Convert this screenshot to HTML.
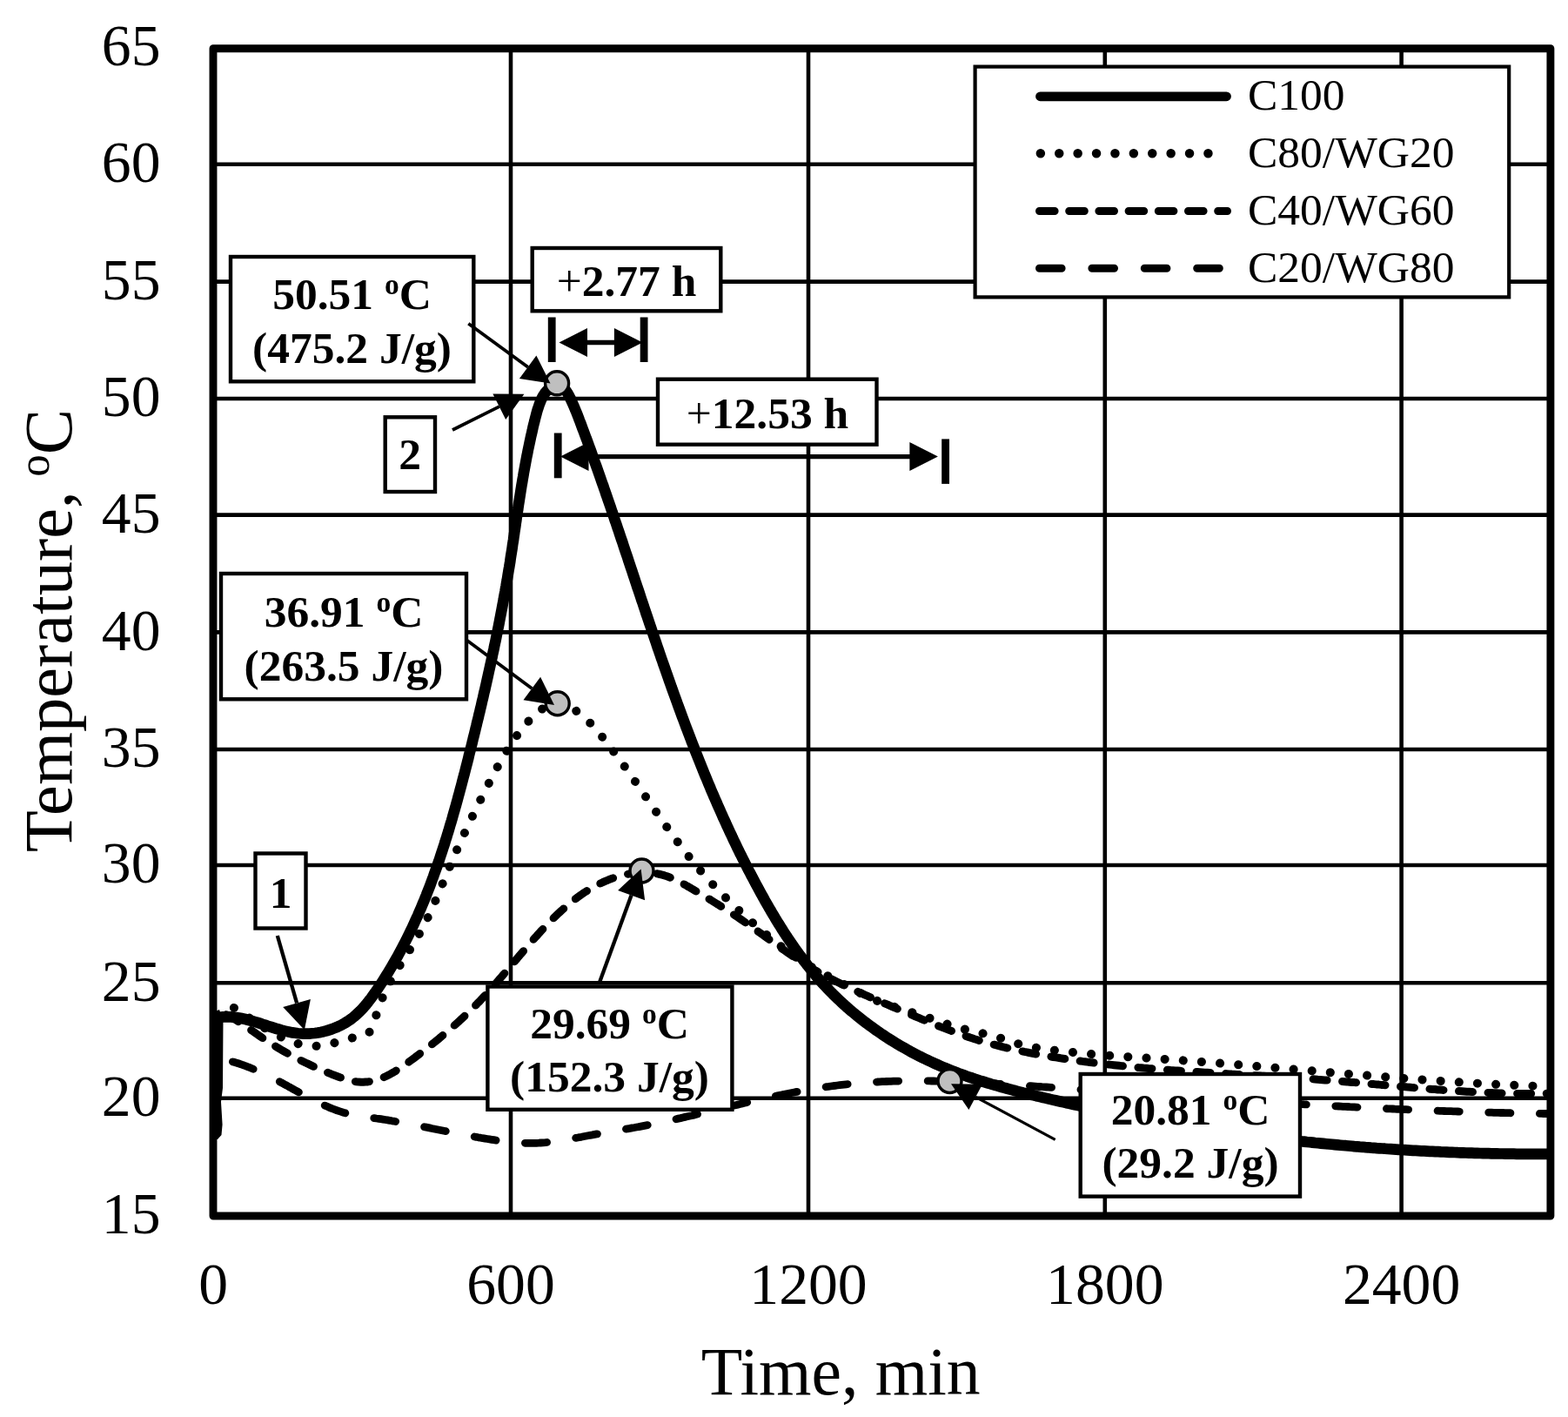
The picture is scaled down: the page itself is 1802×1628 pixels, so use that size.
<!DOCTYPE html>
<html lang="en">
<head>
<meta charset="utf-8">
<title>Temperature vs Time</title>
<style>html,body{margin:0;padding:0;background:#fff;overflow:hidden}svg{display:block}</style>
</head>
<body>
<svg width="1802" height="1628" viewBox="0 0 1802 1628" font-family='"Liberation Serif", "DejaVu Serif", serif' fill="#000">
<rect x="0" y="0" width="1802" height="1628" fill="#fff"/>
<g>
<path d="M587.0 55.7V1397.0M929.0 55.7V1397.0M1269.8 55.7V1397.0M1610.6 55.7V1397.0M245.0 188.8H1781.9M245.0 323.6H1781.9M245.0 458.0H1781.9M245.0 591.6H1781.9M245.0 726.4H1781.9M245.0 861.0H1781.9M245.0 994.0H1781.9M245.0 1129.3H1781.9M245.0 1261.8H1781.9" stroke="#000" stroke-width="4.6" fill="none"/>
<rect x="245.0" y="55.7" width="1536.9" height="1341.3" fill="none" stroke="#000" stroke-width="8.9" stroke-linejoin="round"/>
<g id="series"><path d="M252.8 1216.4L255.4 1216.9L258.0 1217.5L260.5 1218.1L263.1 1218.7L265.6 1219.4L268.1 1220.1L270.5 1220.8L273.0 1221.5L275.5 1222.3L277.9 1223.2L280.3 1224.0L282.7 1224.9L285.1 1225.8L287.5 1226.7L289.9 1227.7L292.3 1228.7L294.6 1229.7L297.0 1230.7L299.3 1231.8L301.7 1232.8L304.0 1233.9L306.3 1235.0L308.6 1236.2L310.9 1237.3L313.2 1238.5L315.5 1239.7L317.8 1240.9L320.1 1242.1L322.4 1243.3L324.7 1244.5L327.0 1245.8L329.3 1247.0L331.5 1248.3L333.8 1249.5L336.1 1250.8L338.4 1252.1L340.7 1253.3L343.0 1254.6L345.3 1255.8L347.5 1257.1L349.8 1258.3L352.1 1259.6L354.4 1260.8L356.7 1262.0L359.0 1263.2L361.4 1264.4L363.7 1265.6L366.0 1266.7L368.3 1267.8L370.7 1268.9L373.0 1270.0L375.4 1271.0L377.8 1272.1L380.2 1273.1L382.5 1274.0L384.9 1274.9L387.3 1275.8L389.8 1276.6L392.2 1277.4L394.7 1278.2L397.1 1278.9L399.6 1279.6L402.1 1280.2L404.6 1280.7L407.1 1281.2L409.6 1281.7L412.1 1282.1L414.7 1282.5L417.2 1282.9L419.8 1283.2L422.4 1283.6L424.9 1283.9L427.5 1284.3L430.0 1284.6L432.6 1285.0L435.2 1285.3L437.7 1285.7L440.3 1286.1L442.8 1286.5L445.4 1286.9L447.9 1287.3L450.5 1287.8L453.0 1288.2L455.6 1288.7L458.1 1289.1L460.7 1289.6L463.2 1290.0L465.8 1290.5L468.3 1291.0L470.9 1291.5L473.4 1291.9L475.9 1292.4L478.5 1292.9L481.0 1293.4L483.6 1293.9L486.1 1294.4L488.6 1294.9L491.2 1295.4L493.7 1295.9L496.3 1296.5L498.8 1297.0L501.3 1297.5L503.9 1298.0L506.4 1298.5L509.0 1299.0L511.5 1299.5L514.0 1300.0L516.6 1300.5L519.1 1301.0L521.7 1301.5L524.2 1302.0L526.8 1302.5L529.3 1303.0L531.8 1303.5L534.4 1304.0L536.9 1304.5L539.5 1305.0L542.0 1305.4L544.6 1305.9L547.1 1306.3L549.7 1306.8L552.2 1307.2L554.8 1307.7L557.4 1308.1L559.9 1308.5L562.5 1308.9L565.0 1309.3L567.6 1309.7L570.2 1310.1L572.7 1310.4L575.3 1310.8L577.9 1311.1L580.4 1311.4L583.0 1311.7L585.6 1312.0L588.1 1312.2L590.7 1312.5L593.3 1312.7L595.9 1312.9L598.4 1313.0L601.0 1313.2L603.6 1313.3L606.2 1313.3L608.7 1313.4L611.3 1313.4L613.9 1313.3L616.5 1313.3L619.1 1313.2L621.6 1313.0L624.2 1312.9L626.8 1312.7L629.4 1312.4L632.0 1312.1L634.5 1311.8L637.1 1311.5L639.7 1311.2L642.3 1310.8L644.8 1310.4L647.4 1310.0L650.0 1309.6L652.6 1309.1L655.1 1308.7L657.7 1308.2L660.3 1307.7L662.8 1307.2L665.4 1306.7L668.0 1306.3L670.5 1305.8L673.1 1305.3L675.7 1304.8L678.2 1304.3L680.8 1303.9L683.3 1303.4L685.9 1302.9L688.4 1302.5L691.0 1302.0L693.5 1301.6L696.1 1301.2L698.6 1300.7L701.1 1300.3L703.7 1299.9L706.2 1299.4L708.8 1299.0L711.3 1298.6L713.8 1298.1L716.4 1297.7L718.9 1297.3L721.4 1296.8L724.0 1296.4L726.5 1295.9L729.0 1295.5L731.6 1295.0L734.1 1294.6L736.6 1294.1L739.1 1293.6L741.7 1293.1L744.2 1292.6L746.7 1292.1L749.3 1291.6L751.8 1291.1L754.3 1290.6L756.8 1290.1L759.4 1289.5L761.9 1289.0L764.4 1288.5L767.0 1287.9L769.5 1287.4L772.0 1286.8L774.5 1286.3L777.1 1285.7L779.6 1285.1L782.1 1284.6L784.7 1284.0L787.2 1283.4L789.7 1282.8L792.2 1282.2L794.8 1281.7L797.3 1281.1L799.8 1280.5L802.3 1279.9L804.9 1279.3L807.4 1278.7L809.9 1278.1L812.5 1277.5L815.0 1276.9L817.5 1276.3L820.0 1275.7L822.6 1275.1L825.1 1274.5L827.6 1273.9L830.2 1273.3L832.7 1272.7L835.2 1272.1L837.8 1271.5L840.3 1270.9L842.8 1270.3L845.4 1269.7L847.9 1269.1L850.4 1268.5L852.9 1267.9L855.5 1267.3L858.0 1266.7L860.5 1266.1L863.1 1265.5L865.6 1265.0L868.2 1264.4L870.7 1263.8L873.2 1263.2L875.8 1262.7L878.3 1262.1L880.8 1261.5L883.4 1261.0L885.9 1260.4L888.4 1259.9L891.0 1259.3L893.5 1258.8L896.1 1258.3L898.6 1257.8L901.1 1257.2L903.7 1256.7L906.2 1256.2L908.8 1255.7L911.3 1255.2L913.9 1254.7L916.4 1254.3L919.0 1253.8L921.5 1253.3L924.0 1252.9L926.6 1252.4L929.1 1252.0L931.7 1251.5L934.2 1251.1L936.8 1250.7L939.3 1250.3L941.9 1249.9L944.4 1249.5L947.0 1249.1L949.6 1248.7L952.1 1248.4L954.7 1248.0L957.2 1247.7L959.8 1247.3L962.3 1247.0L964.9 1246.7L967.5 1246.4L970.0 1246.1L972.6 1245.8L975.2 1245.6L977.7 1245.3L980.3 1245.1L982.8 1244.8L985.4 1244.6L988.0 1244.4L990.5 1244.2L993.1 1244.0L995.7 1243.8L998.3 1243.6L1000.8 1243.4L1003.4 1243.3L1006.0 1243.1L1008.5 1243.0L1011.1 1242.9L1013.7 1242.7L1016.3 1242.6L1018.8 1242.5L1021.4 1242.4L1024.0 1242.3L1026.6 1242.2L1029.2 1242.2L1031.7 1242.1L1034.3 1242.0L1036.9 1242.0L1039.5 1241.9L1042.1 1241.9L1044.6 1241.9L1047.2 1241.9L1049.8 1241.8L1052.4 1241.8L1055.0 1241.8L1057.6 1241.8L1060.1 1241.9L1062.7 1241.9L1065.3 1241.9L1067.9 1241.9L1070.5 1242.0L1073.1 1242.0L1075.7 1242.1L1078.2 1242.1L1080.8 1242.2L1083.4 1242.2L1086.0 1242.3L1088.6 1242.4L1091.2 1242.5L1093.8 1242.6L1096.4 1242.7L1099.0 1242.8L1101.5 1242.9L1104.1 1243.0L1106.7 1243.1L1109.3 1243.2L1111.9 1243.3L1114.5 1243.4L1117.1 1243.5L1119.7 1243.7L1122.3 1243.8L1124.9 1243.9L1127.5 1244.1L1130.0 1244.2L1132.6 1244.4L1135.2 1244.5L1137.8 1244.7L1140.4 1244.8L1143.0 1245.0L1145.6 1245.1L1148.2 1245.3L1150.8 1245.5L1153.4 1245.6L1156.0 1245.8L1158.6 1246.0L1161.2 1246.1L1163.7 1246.3L1166.3 1246.5L1168.9 1246.7L1171.5 1246.8L1174.1 1247.0L1176.7 1247.2L1179.3 1247.4L1181.9 1247.6L1184.5 1247.7L1187.1 1247.9L1189.7 1248.1L1192.3 1248.3L1194.8 1248.5L1197.4 1248.7L1200.0 1248.8L1202.6 1249.0L1205.2 1249.2L1207.8 1249.4L1210.4 1249.6L1213.0 1249.8L1215.6 1249.9L1218.1 1250.1L1220.7 1250.3L1223.3 1250.5L1225.9 1250.7L1228.5 1250.9L1231.1 1251.0L1233.7 1251.2L1236.3 1251.4L1238.8 1251.6L1241.4 1251.8L1244.0 1252.0L1246.6 1252.1L1249.2 1252.3L1251.8 1252.5L1254.4 1252.7L1257.0 1252.9L1259.5 1253.0L1262.1 1253.2L1264.7 1253.4L1267.3 1253.6L1269.9 1253.8L1272.5 1254.0L1275.1 1254.1L1277.6 1254.3L1280.2 1254.5L1282.8 1254.7L1285.4 1254.9L1288.0 1255.1L1290.6 1255.2L1293.1 1255.4L1295.7 1255.6L1298.3 1255.8L1300.9 1256.0L1303.5 1256.1L1306.1 1256.3L1308.6 1256.5L1311.2 1256.7L1313.8 1256.9L1316.4 1257.0L1319.0 1257.2L1321.6 1257.4L1324.1 1257.6L1326.7 1257.8L1329.3 1257.9L1331.9 1258.1L1334.5 1258.3L1337.1 1258.5L1339.6 1258.6L1342.2 1258.8L1344.8 1259.0L1347.4 1259.2L1350.0 1259.4L1352.5 1259.5L1355.1 1259.7L1357.7 1259.9L1360.3 1260.1L1362.9 1260.2L1365.5 1260.4L1368.0 1260.6L1370.6 1260.8L1373.2 1260.9L1375.8 1261.1L1378.4 1261.3L1380.9 1261.4L1383.5 1261.6L1386.1 1261.8L1388.7 1262.0L1391.3 1262.1L1393.8 1262.3L1396.4 1262.5L1399.0 1262.6L1401.6 1262.8L1404.2 1263.0L1406.7 1263.1L1409.3 1263.3L1411.9 1263.5L1414.5 1263.6L1417.1 1263.8L1419.7 1264.0L1422.2 1264.1L1424.8 1264.3L1427.4 1264.5L1430.0 1264.6L1432.6 1264.8L1435.1 1265.0L1437.7 1265.1L1440.3 1265.3L1442.9 1265.4L1445.5 1265.6L1448.0 1265.8L1450.6 1265.9L1453.2 1266.1L1455.8 1266.2L1458.4 1266.4L1460.9 1266.6L1463.5 1266.7L1466.1 1266.9L1468.7 1267.0L1471.3 1267.2L1473.8 1267.3L1476.4 1267.5L1479.0 1267.6L1481.6 1267.8L1484.2 1268.0L1486.7 1268.1L1489.3 1268.3L1491.9 1268.4L1494.5 1268.6L1497.1 1268.7L1499.6 1268.9L1502.2 1269.0L1504.8 1269.1L1507.4 1269.3L1510.0 1269.4L1512.5 1269.6L1515.1 1269.7L1517.7 1269.9L1520.3 1270.0L1522.9 1270.2L1525.5 1270.3L1528.0 1270.4L1530.6 1270.6L1533.2 1270.7L1535.8 1270.9L1538.4 1271.0L1540.9 1271.1L1543.5 1271.3L1546.1 1271.4L1548.7 1271.5L1551.3 1271.7L1553.9 1271.8L1556.4 1271.9L1559.0 1272.1L1561.6 1272.2L1564.2 1272.3L1566.8 1272.4L1569.4 1272.6L1571.9 1272.7L1574.5 1272.8L1577.1 1273.0L1579.7 1273.1L1582.3 1273.2L1584.8 1273.3L1587.4 1273.4L1590.0 1273.6L1592.6 1273.7L1595.2 1273.8L1597.8 1273.9L1600.4 1274.0L1602.9 1274.2L1605.5 1274.3L1608.1 1274.4L1610.7 1274.5L1613.3 1274.6L1615.9 1274.7L1618.4 1274.8L1621.0 1274.9L1623.6 1275.1L1626.2 1275.2L1628.8 1275.3L1631.4 1275.4L1634.0 1275.5L1636.5 1275.6L1639.1 1275.7L1641.7 1275.8L1644.3 1275.9L1646.9 1276.0L1649.5 1276.1L1652.1 1276.2L1654.7 1276.3L1657.2 1276.4L1659.8 1276.5L1662.4 1276.6L1665.0 1276.7L1667.6 1276.7L1670.2 1276.8L1672.8 1276.9L1675.4 1277.0L1678.0 1277.1L1680.5 1277.2L1683.1 1277.3L1685.7 1277.4L1688.3 1277.4L1690.9 1277.5L1693.5 1277.6L1696.1 1277.7L1698.7 1277.8L1701.3 1277.8L1703.9 1277.9L1706.4 1278.0L1709.0 1278.1L1711.6 1278.1L1714.2 1278.2L1716.8 1278.3L1719.4 1278.3L1722.0 1278.4L1724.6 1278.5L1727.2 1278.5L1729.8 1278.6L1732.4 1278.7L1735.0 1278.7L1737.6 1278.8L1740.2 1278.8L1742.7 1278.9L1745.3 1278.9L1747.9 1279.0L1750.5 1279.1L1753.1 1279.1L1755.7 1279.2L1758.3 1279.2L1760.9 1279.3L1763.5 1279.3L1766.1 1279.3L1768.7 1279.4L1771.3 1279.4L1773.9 1279.5L1776.5 1279.5L1779.1 1279.5" fill="none" stroke="#000" stroke-linecap="round" stroke-linejoin="round" stroke-width="8.8" stroke-dasharray="25.2 33.5" stroke-dashoffset="-15"/>
<path d="M252.0 1161.9L254.7 1163.1L257.3 1164.3L259.8 1165.5L262.3 1166.9L264.8 1168.2L267.3 1169.6L269.7 1171.0L272.1 1172.5L274.5 1174.0L276.8 1175.5L279.2 1177.0L281.5 1178.6L283.8 1180.1L286.1 1181.7L288.4 1183.3L290.7 1184.9L293.0 1186.5L295.3 1188.1L297.6 1189.7L299.9 1191.3L302.2 1192.9L304.5 1194.4L306.9 1196.0L309.2 1197.5L311.6 1199.0L314.0 1200.5L316.4 1202.0L318.8 1203.5L321.2 1204.9L323.6 1206.3L326.1 1207.7L328.5 1209.1L331.0 1210.5L333.5 1211.9L336.0 1213.2L338.5 1214.6L341.0 1215.9L343.5 1217.2L346.1 1218.5L348.6 1219.7L351.2 1221.0L353.8 1222.2L356.3 1223.4L358.9 1224.6L361.5 1225.8L364.1 1227.0L366.7 1228.2L369.4 1229.3L372.0 1230.4L374.6 1231.5L377.3 1232.6L379.9 1233.7L382.6 1234.8L385.3 1235.8L387.9 1236.8L390.6 1237.8L393.3 1238.7L396.0 1239.6L398.7 1240.4L401.4 1241.2L404.1 1241.8L406.8 1242.4L409.4 1242.8L412.1 1243.1L414.8 1243.3L417.5 1243.3L420.2 1243.1L422.8 1242.9L425.5 1242.5L428.2 1241.9L430.8 1241.3L433.4 1240.5L436.0 1239.6L438.6 1238.7L441.2 1237.6L443.7 1236.5L446.2 1235.2L448.7 1233.9L451.2 1232.5L453.7 1231.1L456.1 1229.6L458.5 1228.0L460.9 1226.4L463.3 1224.8L465.7 1223.1L468.0 1221.4L470.4 1219.7L472.7 1218.0L475.0 1216.3L477.3 1214.6L479.6 1212.8L481.9 1211.1L484.2 1209.3L486.5 1207.6L488.8 1205.8L491.0 1204.1L493.3 1202.3L495.5 1200.5L497.7 1198.7L499.9 1197.0L502.1 1195.2L504.3 1193.4L506.5 1191.6L508.7 1189.7L510.8 1187.9L513.0 1186.1L515.1 1184.3L517.3 1182.4L519.4 1180.6L521.5 1178.7L523.6 1176.9L525.7 1175.0L527.8 1173.1L529.8 1171.2L531.9 1169.3L533.9 1167.4L536.0 1165.5L538.0 1163.5L540.0 1161.6L542.0 1159.6L544.0 1157.7L545.9 1155.7L547.9 1153.7L549.8 1151.7L551.8 1149.7L553.7 1147.7L555.6 1145.6L557.5 1143.6L559.4 1141.5L561.3 1139.5L563.2 1137.4L565.0 1135.3L566.9 1133.2L568.7 1131.1L570.6 1129.0L572.4 1126.9L574.2 1124.8L576.1 1122.6L577.9 1120.5L579.7 1118.4L581.5 1116.2L583.4 1114.1L585.2 1111.9L587.0 1109.8L588.8 1107.6L590.6 1105.5L592.5 1103.3L594.3 1101.2L596.1 1099.0L597.9 1096.9L599.8 1094.7L601.6 1092.6L603.5 1090.4L605.3 1088.3L607.2 1086.1L609.0 1084.0L610.9 1081.8L612.8 1079.7L614.7 1077.6L616.6 1075.5L618.5 1073.3L620.4 1071.2L622.3 1069.1L624.3 1067.0L626.2 1064.9L628.2 1062.9L630.2 1060.8L632.2 1058.8L634.2 1056.7L636.2 1054.7L638.3 1052.7L640.3 1050.8L642.4 1048.8L644.5 1046.9L646.6 1045.0L648.7 1043.1L650.9 1041.2L653.0 1039.4L655.2 1037.6L657.4 1035.8L659.6 1034.0L661.9 1032.3L664.1 1030.6L666.4 1029.0L668.7 1027.4L671.0 1025.8L673.4 1024.3L675.8 1022.8L678.1 1021.3L680.6 1019.9L683.0 1018.5L685.5 1017.2L688.0 1015.9L690.5 1014.7L693.0 1013.5L695.6 1012.4L698.2 1011.3L700.8 1010.2L703.4 1009.3L706.1 1008.3L708.8 1007.5L711.5 1006.7L714.2 1005.9L716.9 1005.3L719.7 1004.7L722.4 1004.1L725.2 1003.6L728.0 1003.3L730.8 1002.9L733.5 1002.7L736.3 1002.5L739.1 1002.5L741.9 1002.5L744.7 1002.6L747.4 1002.8L750.2 1003.1L752.9 1003.4L755.7 1003.9L758.4 1004.5L761.1 1005.1L763.8 1005.9L766.5 1006.8L769.1 1007.8L771.7 1008.8L774.4 1010.0L777.0 1011.2L779.5 1012.4L782.1 1013.8L784.6 1015.1L787.2 1016.5L789.7 1018.0L792.2 1019.4L794.7 1020.9L797.2 1022.3L799.7 1023.8L802.1 1025.2L804.6 1026.7L807.1 1028.2L809.5 1029.6L811.9 1031.1L814.4 1032.6L816.8 1034.0L819.2 1035.5L821.6 1037.0L824.0 1038.5L826.4 1039.9L828.7 1041.4L831.1 1042.9L833.5 1044.4L835.8 1046.0L838.2 1047.5L840.5 1049.0L842.9 1050.5L845.2 1052.1L847.5 1053.6L849.9 1055.2L852.2 1056.8L854.5 1058.4L856.8 1060.0L859.1 1061.6L861.4 1063.2L863.7 1064.8L866.0 1066.4L868.3 1068.1L870.6 1069.7L872.9 1071.4L875.2 1073.0L877.5 1074.7L879.8 1076.4L882.1 1078.0L884.4 1079.7L886.7 1081.3L889.0 1083.0L891.3 1084.7L893.6 1086.3L895.9 1088.0L898.2 1089.6L900.6 1091.2L902.9 1092.9L905.2 1094.5L907.5 1096.1L909.9 1097.7L912.2 1099.3L914.6 1100.8L916.9 1102.4L919.3 1104.0L921.7 1105.5L924.1 1107.0L926.5 1108.5L928.9 1110.0L931.3 1111.4L933.7 1112.9L936.1 1114.3L938.6 1115.7L941.0 1117.1L943.5 1118.4L945.9 1119.8L948.4 1121.1L950.9 1122.5L953.4 1123.8L955.9 1125.0L958.4 1126.3L960.9 1127.6L963.4 1128.8L965.9 1130.1L968.5 1131.3L971.0 1132.5L973.6 1133.7L976.1 1134.9L978.7 1136.1L981.2 1137.3L983.8 1138.5L986.3 1139.6L988.9 1140.8L991.5 1141.9L994.1 1143.1L996.7 1144.2L999.2 1145.3L1001.8 1146.5L1004.4 1147.6L1007.0 1148.7L1009.6 1149.8L1012.2 1150.9L1014.8 1152.0L1017.4 1153.1L1020.0 1154.2L1022.6 1155.4L1025.2 1156.5L1027.8 1157.6L1030.4 1158.7L1033.0 1159.8L1035.6 1160.9L1038.2 1162.0L1040.8 1163.1L1043.4 1164.2L1046.0 1165.3L1048.7 1166.4L1051.3 1167.5L1053.9 1168.6L1056.5 1169.7L1059.1 1170.8L1061.7 1171.9L1064.3 1173.0L1067.0 1174.1L1069.6 1175.1L1072.2 1176.2L1074.8 1177.3L1077.5 1178.3L1080.1 1179.4L1082.7 1180.4L1085.4 1181.4L1088.0 1182.4L1090.6 1183.4L1093.3 1184.4L1095.9 1185.4L1098.6 1186.4L1101.2 1187.3L1103.9 1188.3L1106.6 1189.2L1109.2 1190.1L1111.9 1191.1L1114.6 1191.9L1117.2 1192.8L1119.9 1193.7L1122.6 1194.5L1125.3 1195.4L1128.0 1196.2L1130.7 1197.0L1133.4 1197.8L1136.1 1198.5L1138.8 1199.3L1141.6 1200.0L1144.3 1200.7L1147.0 1201.4L1149.7 1202.1L1152.5 1202.8L1155.2 1203.5L1158.0 1204.1L1160.7 1204.8L1163.5 1205.4L1166.2 1206.0L1169.0 1206.6L1171.7 1207.2L1174.5 1207.8L1177.2 1208.4L1180.0 1208.9L1182.8 1209.5L1185.5 1210.0L1188.3 1210.6L1191.1 1211.1L1193.9 1211.6L1196.6 1212.1L1199.4 1212.6L1202.2 1213.1L1205.0 1213.5L1207.8 1214.0L1210.5 1214.5L1213.3 1214.9L1216.1 1215.3L1218.9 1215.8L1221.7 1216.2L1224.5 1216.6L1227.3 1217.0L1230.1 1217.4L1232.9 1217.8L1235.7 1218.2L1238.4 1218.6L1241.2 1219.0L1244.0 1219.4L1246.8 1219.7L1249.6 1220.1L1252.4 1220.5L1255.2 1220.8L1258.0 1221.2L1260.8 1221.5L1263.6 1221.8L1266.4 1222.2L1269.2 1222.5L1272.0 1222.8L1274.8 1223.1L1277.6 1223.4L1280.4 1223.7L1283.2 1224.0L1286.1 1224.3L1288.9 1224.6L1291.7 1224.9L1294.5 1225.1L1297.3 1225.4L1300.1 1225.7L1302.9 1225.9L1305.7 1226.2L1308.5 1226.5L1311.3 1226.7L1314.1 1227.0L1317.0 1227.2L1319.8 1227.5L1322.6 1227.7L1325.4 1227.9L1328.2 1228.1L1331.0 1228.4L1333.8 1228.6L1336.6 1228.8L1339.5 1229.0L1342.3 1229.2L1345.1 1229.5L1347.9 1229.7L1350.7 1229.9L1353.5 1230.1L1356.4 1230.3L1359.2 1230.5L1362.0 1230.7L1364.8 1230.9L1367.6 1231.1L1370.4 1231.2L1373.3 1231.4L1376.1 1231.6L1378.9 1231.8L1381.7 1232.0L1384.5 1232.2L1387.4 1232.3L1390.2 1232.5L1393.0 1232.7L1395.8 1232.9L1398.6 1233.0L1401.5 1233.2L1404.3 1233.4L1407.1 1233.5L1409.9 1233.7L1412.7 1233.9L1415.6 1234.1L1418.4 1234.2L1421.2 1234.4L1424.0 1234.6L1426.8 1234.7L1429.7 1234.9L1432.5 1235.1L1435.3 1235.2L1438.1 1235.4L1440.9 1235.6L1443.8 1235.7L1446.6 1235.9L1449.4 1236.1L1452.2 1236.2L1455.1 1236.4L1457.9 1236.6L1460.7 1236.7L1463.5 1236.9L1466.3 1237.1L1469.2 1237.2L1472.0 1237.4L1474.8 1237.6L1477.6 1237.8L1480.4 1238.0L1483.3 1238.1L1486.1 1238.3L1488.9 1238.5L1491.7 1238.7L1494.5 1238.9L1497.4 1239.1L1500.2 1239.3L1503.0 1239.5L1505.8 1239.6L1508.6 1239.8L1511.4 1240.0L1514.3 1240.3L1517.1 1240.5L1519.9 1240.7L1522.7 1240.9L1525.5 1241.1L1528.3 1241.3L1531.2 1241.5L1534.0 1241.8L1536.8 1242.0L1539.6 1242.2L1542.4 1242.5L1545.2 1242.7L1548.0 1242.9L1550.8 1243.2L1553.7 1243.4L1556.5 1243.6L1559.3 1243.9L1562.1 1244.1L1564.9 1244.4L1567.7 1244.6L1570.5 1244.9L1573.3 1245.1L1576.2 1245.4L1579.0 1245.6L1581.8 1245.9L1584.6 1246.1L1587.4 1246.4L1590.2 1246.6L1593.0 1246.9L1595.8 1247.1L1598.6 1247.4L1601.5 1247.6L1604.3 1247.9L1607.1 1248.1L1609.9 1248.4L1612.7 1248.6L1615.5 1248.8L1618.3 1249.1L1621.1 1249.3L1623.9 1249.6L1626.7 1249.8L1629.6 1250.0L1632.4 1250.3L1635.2 1250.5L1638.0 1250.7L1640.8 1251.0L1643.6 1251.2L1646.4 1251.4L1649.2 1251.6L1652.1 1251.9L1654.9 1252.1L1657.7 1252.3L1660.5 1252.5L1663.3 1252.7L1666.1 1252.9L1668.9 1253.1L1671.7 1253.3L1674.6 1253.5L1677.4 1253.6L1680.2 1253.8L1683.0 1254.0L1685.8 1254.2L1688.6 1254.3L1691.5 1254.5L1694.3 1254.6L1697.1 1254.8L1699.9 1254.9L1702.7 1255.1L1705.5 1255.2L1708.4 1255.3L1711.2 1255.5L1714.0 1255.6L1716.8 1255.7L1719.6 1255.8L1722.5 1255.9L1725.3 1256.0L1728.1 1256.1L1730.9 1256.1L1733.8 1256.2L1736.6 1256.3L1739.4 1256.3L1742.2 1256.4L1745.1 1256.4L1747.9 1256.5L1750.7 1256.5L1753.6 1256.5L1756.4 1256.5L1759.2 1256.5L1762.0 1256.5L1764.9 1256.5L1767.7 1256.5L1770.5 1256.4L1773.4 1256.4L1776.2 1256.4L1779.0 1256.3" fill="none" stroke="#000" stroke-linecap="round" stroke-linejoin="round" stroke-width="9" stroke-dasharray="16 17.6" stroke-dashoffset="-9"/>
<path d="M252.4 1148.1L254.5 1149.3L256.6 1150.4L258.7 1151.7L260.8 1152.9L262.8 1154.1L264.9 1155.4L266.9 1156.7L269.0 1158.0L271.0 1159.3L273.0 1160.6L275.0 1161.9L277.0 1163.2L279.0 1164.6L281.0 1165.9L283.0 1167.3L285.0 1168.6L287.0 1169.9L289.0 1171.3L291.0 1172.6L293.1 1174.0L295.1 1175.3L297.1 1176.6L299.1 1177.9L301.2 1179.2L303.2 1180.5L305.2 1181.7L307.3 1183.0L309.4 1184.2L311.5 1185.4L313.6 1186.6L315.7 1187.8L317.8 1188.9L319.9 1190.0L322.1 1191.1L324.3 1192.1L326.5 1193.2L328.7 1194.1L330.9 1195.1L333.1 1196.0L335.4 1196.8L337.7 1197.6L339.9 1198.4L342.2 1199.0L344.5 1199.7L346.9 1200.2L349.2 1200.7L351.5 1201.1L353.9 1201.4L356.3 1201.6L358.6 1201.8L361.0 1201.9L363.4 1201.8L365.8 1201.7L368.2 1201.5L370.6 1201.2L373.0 1200.8L375.4 1200.4L377.8 1199.9L380.1 1199.3L382.5 1198.7L384.8 1198.0L387.2 1197.3L389.5 1196.6L391.8 1195.9L394.1 1195.2L396.4 1194.5L398.8 1193.8L401.2 1193.2L403.6 1192.7L406.1 1192.2L408.5 1191.7L411.0 1191.3L413.5 1190.8L415.8 1190.2L418.1 1189.6L420.2 1188.8L422.1 1187.8L423.8 1186.5L425.3 1185.0L426.5 1183.3L427.6 1181.3L428.5 1179.2L429.3 1177.0L430.1 1174.6L430.7 1172.2L431.4 1169.8L432.1 1167.3L432.8 1164.9L433.5 1162.6L434.3 1160.2L435.1 1157.9L435.9 1155.6L436.7 1153.3L437.6 1151.0L438.5 1148.8L439.5 1146.5L440.4 1144.3L441.4 1142.1L442.4 1140.0L443.4 1137.8L444.5 1135.7L445.6 1133.5L446.7 1131.4L447.8 1129.3L448.9 1127.2L450.1 1125.1L451.3 1123.0L452.4 1121.0L453.6 1118.9L454.9 1116.9L456.1 1114.8L457.3 1112.8L458.6 1110.7L459.9 1108.7L461.1 1106.7L462.4 1104.6L463.7 1102.6L465.0 1100.6L466.3 1098.5L467.6 1096.5L468.9 1094.5L470.2 1092.4L471.5 1090.4L472.7 1088.3L474.0 1086.3L475.3 1084.2L476.5 1082.2L477.8 1080.1L479.0 1078.0L480.2 1075.9L481.4 1073.8L482.6 1071.7L483.7 1069.6L484.9 1067.5L486.0 1065.4L487.1 1063.2L488.2 1061.1L489.3 1058.9L490.3 1056.8L491.4 1054.6L492.4 1052.5L493.4 1050.3L494.5 1048.1L495.5 1045.9L496.5 1043.7L497.4 1041.5L498.4 1039.3L499.4 1037.1L500.4 1034.9L501.3 1032.7L502.3 1030.5L503.2 1028.3L504.1 1026.1L505.1 1023.8L506.0 1021.6L506.9 1019.4L507.8 1017.2L508.8 1014.9L509.7 1012.7L510.6 1010.5L511.5 1008.3L512.5 1006.0L513.4 1003.8L514.3 1001.6L515.2 999.4L516.2 997.1L517.1 994.9L518.0 992.7L519.0 990.5L519.9 988.3L520.9 986.1L521.9 983.9L522.8 981.6L523.8 979.4L524.7 977.2L525.7 975.0L526.7 972.8L527.7 970.6L528.7 968.4L529.7 966.3L530.6 964.1L531.6 961.9L532.6 959.7L533.7 957.5L534.7 955.3L535.7 953.1L536.7 951.0L537.7 948.8L538.7 946.6L539.8 944.4L540.8 942.3L541.8 940.1L542.9 937.9L543.9 935.7L545.0 933.6L546.0 931.4L547.1 929.2L548.1 927.1L549.2 924.9L550.2 922.8L551.3 920.6L552.4 918.5L553.4 916.3L554.5 914.1L555.6 912.0L556.7 909.8L557.8 907.7L558.9 905.6L560.0 903.4L561.1 901.3L562.2 899.1L563.3 897.0L564.4 894.8L565.5 892.7L566.6 890.6L567.7 888.4L568.9 886.3L570.0 884.2L571.2 882.1L572.3 880.0L573.5 877.9L574.7 875.8L575.8 873.7L577.0 871.6L578.3 869.5L579.5 867.4L580.7 865.4L582.0 863.3L583.2 861.3L584.5 859.2L585.8 857.2L587.1 855.2L588.4 853.2L589.8 851.2L591.1 849.2L592.5 847.3L593.9 845.3L595.4 843.4L596.8 841.5L598.3 839.6L599.7 837.7L601.3 835.8L602.8 833.9L604.3 832.1L605.9 830.3L607.5 828.5L609.2 826.7L610.8 824.9L612.5 823.2L614.3 821.5L616.1 819.9L617.9 818.3L619.8 816.8L621.8 815.4L623.9 814.0L626.0 812.8L628.2 811.6L630.4 810.6L632.7 809.8L635.0 809.2L637.3 808.7L639.7 808.5L642.0 808.5L644.3 808.7L646.6 809.2L648.9 809.8L651.2 810.6L653.4 811.6L655.6 812.7L657.7 813.9L659.9 815.2L661.9 816.6L663.9 818.1L665.9 819.6L667.8 821.1L669.7 822.7L671.5 824.3L673.3 825.9L675.1 827.6L676.8 829.3L678.5 831.0L680.2 832.7L681.8 834.5L683.4 836.3L685.0 838.1L686.6 839.9L688.1 841.8L689.6 843.6L691.2 845.5L692.7 847.4L694.2 849.3L695.7 851.1L697.1 853.0L698.6 854.9L700.1 856.8L701.6 858.7L703.0 860.6L704.5 862.5L705.9 864.5L707.4 866.4L708.8 868.3L710.2 870.2L711.6 872.2L713.1 874.1L714.5 876.0L715.9 878.0L717.3 879.9L718.7 881.9L720.1 883.8L721.5 885.8L722.9 887.8L724.3 889.7L725.6 891.7L727.0 893.6L728.4 895.6L729.8 897.6L731.2 899.6L732.5 901.5L733.9 903.5L735.3 905.5L736.6 907.5L738.0 909.4L739.4 911.4L740.7 913.4L742.1 915.4L743.5 917.4L744.8 919.4L746.2 921.3L747.6 923.3L749.0 925.3L750.3 927.3L751.7 929.3L753.1 931.3L754.4 933.2L755.8 935.2L757.2 937.2L758.6 939.2L760.0 941.2L761.3 943.1L762.7 945.1L764.1 947.1L765.5 949.1L766.9 951.0L768.3 953.0L769.7 954.9L771.1 956.9L772.6 958.9L774.0 960.8L775.4 962.7L776.8 964.7L778.3 966.6L779.7 968.6L781.2 970.5L782.6 972.4L784.1 974.3L785.5 976.2L787.0 978.2L788.5 980.1L789.9 981.9L791.4 983.8L792.9 985.7L794.4 987.6L795.9 989.5L797.5 991.3L799.0 993.2L800.5 995.0L802.1 996.9L803.6 998.7L805.2 1000.5L806.8 1002.3L808.3 1004.2L809.9 1006.0L811.5 1007.7L813.1 1009.5L814.7 1011.3L816.4 1013.1L818.0 1014.8L819.6 1016.6L821.3 1018.3L822.9 1020.1L824.6 1021.8L826.3 1023.5L827.9 1025.3L829.6 1027.0L831.3 1028.7L833.0 1030.4L834.7 1032.1L836.4 1033.7L838.1 1035.4L839.9 1037.1L841.6 1038.8L843.3 1040.4L845.1 1042.1L846.8 1043.7L848.6 1045.4L850.4 1047.0L852.1 1048.7L853.9 1050.3L855.7 1051.9L857.5 1053.5L859.3 1055.1L861.0 1056.7L862.8 1058.4L864.7 1060.0L866.5 1061.5L868.3 1063.1L870.1 1064.7L871.9 1066.3L873.8 1067.9L875.6 1069.5L877.4 1071.0L879.3 1072.6L881.1 1074.1L883.0 1075.7L884.9 1077.2L886.7 1078.7L888.6 1080.2L890.5 1081.7L892.4 1083.2L894.3 1084.7L896.2 1086.2L898.1 1087.7L900.0 1089.1L901.9 1090.6L903.9 1092.0L905.8 1093.4L907.8 1094.8L909.7 1096.2L911.7 1097.6L913.7 1099.0L915.7 1100.3L917.7 1101.6L919.7 1102.9L921.7 1104.2L923.7 1105.5L925.7 1106.8L927.8 1108.1L929.8 1109.3L931.9 1110.5L934.0 1111.7L936.1 1112.9L938.2 1114.1L940.3 1115.2L942.4 1116.4L944.5 1117.5L946.6 1118.6L948.7 1119.7L950.8 1120.9L953.0 1122.0L955.1 1123.1L957.2 1124.2L959.4 1125.3L961.5 1126.4L963.6 1127.5L965.8 1128.7L967.9 1129.8L970.0 1130.9L972.2 1132.1L974.3 1133.2L976.4 1134.4L978.5 1135.5L980.7 1136.7L982.8 1137.8L984.9 1139.0L987.1 1140.1L989.2 1141.2L991.4 1142.3L993.5 1143.4L995.7 1144.5L997.9 1145.5L1000.0 1146.5L1002.2 1147.4L1004.5 1148.4L1006.7 1149.3L1008.9 1150.2L1011.2 1151.0L1013.4 1151.9L1015.7 1152.7L1017.9 1153.5L1020.2 1154.3L1022.5 1155.0L1024.7 1155.8L1027.0 1156.5L1029.3 1157.3L1031.6 1158.0L1033.9 1158.7L1036.2 1159.4L1038.5 1160.1L1040.8 1160.8L1043.1 1161.6L1045.4 1162.3L1047.7 1163.0L1050.0 1163.7L1052.3 1164.4L1054.6 1165.1L1056.9 1165.9L1059.2 1166.6L1061.5 1167.4L1063.8 1168.2L1066.1 1168.9L1068.3 1169.7L1070.6 1170.5L1072.9 1171.3L1075.2 1172.1L1077.5 1172.9L1079.7 1173.7L1082.0 1174.4L1084.3 1175.2L1086.6 1176.0L1088.9 1176.7L1091.2 1177.5L1093.5 1178.2L1095.7 1178.9L1098.0 1179.6L1100.4 1180.3L1102.7 1181.0L1105.0 1181.6L1107.3 1182.2L1109.6 1182.8L1112.0 1183.4L1114.3 1183.9L1116.6 1184.5L1119.0 1185.0L1121.3 1185.5L1123.7 1186.1L1126.0 1186.6L1128.4 1187.1L1130.7 1187.6L1133.1 1188.2L1135.4 1188.7L1137.8 1189.3L1140.1 1189.9L1142.4 1190.5L1144.7 1191.2L1147.1 1191.8L1149.4 1192.5L1151.7 1193.3L1154.0 1194.0L1156.2 1194.8L1158.5 1195.6L1160.8 1196.3L1163.1 1197.1L1165.4 1197.8L1167.7 1198.5L1170.0 1199.2L1172.3 1199.8L1174.7 1200.4L1177.0 1200.9L1179.4 1201.5L1181.7 1202.0L1184.1 1202.5L1186.4 1202.9L1188.8 1203.3L1191.1 1203.8L1193.5 1204.1L1195.9 1204.5L1198.3 1204.9L1200.7 1205.2L1203.0 1205.5L1205.4 1205.9L1207.8 1206.2L1210.2 1206.5L1212.6 1206.8L1215.0 1207.1L1217.4 1207.4L1219.7 1207.6L1222.1 1207.9L1224.5 1208.2L1226.9 1208.4L1229.3 1208.7L1231.7 1208.9L1234.1 1209.2L1236.5 1209.4L1238.9 1209.7L1241.3 1209.9L1243.7 1210.1L1246.1 1210.3L1248.5 1210.6L1250.9 1210.8L1253.3 1211.0L1255.7 1211.2L1258.1 1211.4L1260.4 1211.6L1262.8 1211.8L1265.2 1212.0L1267.6 1212.1L1270.0 1212.3L1272.4 1212.5L1274.8 1212.7L1277.2 1212.9L1279.6 1213.0L1282.0 1213.2L1284.4 1213.4L1286.8 1213.5L1289.2 1213.7L1291.7 1213.9L1294.1 1214.0L1296.5 1214.2L1298.9 1214.3L1301.3 1214.5L1303.7 1214.7L1306.1 1214.8L1308.5 1215.0L1310.9 1215.1L1313.3 1215.3L1315.7 1215.4L1318.1 1215.6L1320.5 1215.7L1322.9 1215.9L1325.3 1216.1L1327.7 1216.2L1330.1 1216.4L1332.5 1216.5L1334.9 1216.7L1337.3 1216.8L1339.7 1217.0L1342.1 1217.2L1344.5 1217.3L1346.9 1217.5L1349.3 1217.7L1351.7 1217.8L1354.1 1218.0L1356.5 1218.2L1358.9 1218.3L1361.3 1218.5L1363.7 1218.7L1366.1 1218.9L1368.5 1219.0L1370.9 1219.2L1373.3 1219.4L1375.7 1219.6L1378.1 1219.7L1380.5 1219.9L1382.9 1220.1L1385.3 1220.3L1387.7 1220.5L1390.1 1220.7L1392.5 1220.8L1394.9 1221.0L1397.3 1221.2L1399.7 1221.4L1402.1 1221.6L1404.5 1221.8L1406.9 1222.0L1409.3 1222.2L1411.7 1222.3L1414.1 1222.5L1416.5 1222.7L1418.9 1222.9L1421.3 1223.1L1423.7 1223.3L1426.1 1223.5L1428.5 1223.7L1430.9 1223.9L1433.3 1224.1L1435.7 1224.3L1438.1 1224.5L1440.5 1224.7L1442.9 1224.9L1445.3 1225.1L1447.7 1225.3L1450.1 1225.5L1452.5 1225.7L1454.9 1225.9L1457.3 1226.1L1459.7 1226.3L1462.1 1226.5L1464.5 1226.7L1466.9 1226.9L1469.3 1227.1L1471.7 1227.3L1474.1 1227.5L1476.5 1227.7L1478.9 1227.9L1481.3 1228.1L1483.7 1228.3L1486.1 1228.5L1488.5 1228.7L1490.9 1228.9L1493.3 1229.1L1495.7 1229.3L1498.1 1229.5L1500.5 1229.7L1502.9 1229.9L1505.3 1230.1L1507.7 1230.3L1510.1 1230.5L1512.5 1230.7L1514.9 1230.9L1517.3 1231.1L1519.7 1231.3L1522.1 1231.5L1524.4 1231.7L1526.8 1232.0L1529.2 1232.2L1531.6 1232.4L1534.0 1232.6L1536.4 1232.8L1538.8 1233.0L1541.2 1233.2L1543.6 1233.4L1546.0 1233.6L1548.4 1233.8L1550.8 1234.0L1553.2 1234.2L1555.6 1234.4L1558.0 1234.6L1560.4 1234.7L1562.8 1234.9L1565.2 1235.1L1567.6 1235.3L1570.0 1235.5L1572.4 1235.7L1574.8 1235.9L1577.2 1236.1L1579.6 1236.3L1582.0 1236.5L1584.4 1236.7L1586.8 1236.9L1589.2 1237.1L1591.6 1237.3L1594.0 1237.5L1596.4 1237.6L1598.8 1237.8L1601.2 1238.0L1603.6 1238.2L1606.0 1238.4L1608.4 1238.6L1610.8 1238.7L1613.2 1238.9L1615.6 1239.1L1618.0 1239.3L1620.4 1239.5L1622.8 1239.7L1625.2 1239.8L1627.6 1240.0L1630.0 1240.2L1632.4 1240.4L1634.8 1240.5L1637.2 1240.7L1639.6 1240.9L1642.0 1241.0L1644.4 1241.2L1646.8 1241.4L1649.2 1241.5L1651.6 1241.7L1654.0 1241.9L1656.4 1242.0L1658.8 1242.2L1661.2 1242.4L1663.6 1242.5L1666.0 1242.7L1668.4 1242.8L1670.8 1243.0L1673.2 1243.1L1675.6 1243.3L1678.0 1243.4L1680.4 1243.6L1682.8 1243.7L1685.2 1243.9L1687.6 1244.0L1690.0 1244.2L1692.4 1244.3L1694.8 1244.5L1697.2 1244.6L1699.6 1244.7L1702.0 1244.9L1704.4 1245.0L1706.9 1245.1L1709.3 1245.3L1711.7 1245.4L1714.1 1245.5L1716.5 1245.7L1718.9 1245.8L1721.3 1245.9L1723.7 1246.0L1726.1 1246.1L1728.5 1246.3L1730.9 1246.4L1733.3 1246.5L1735.7 1246.6L1738.1 1246.7L1740.5 1246.8L1742.9 1246.9L1745.3 1247.0L1747.7 1247.1L1750.1 1247.2L1752.5 1247.3L1754.9 1247.4L1757.4 1247.5L1759.8 1247.6L1762.2 1247.7L1764.6 1247.8L1767.0 1247.9L1769.4 1248.0L1771.8 1248.1L1774.2 1248.1L1776.6 1248.2L1779.0 1248.3" fill="none" stroke="#000" stroke-linecap="round" stroke-linejoin="round" stroke-width="10" stroke-dasharray="0.1 21.1" stroke-dashoffset="2"/>
<polygon points="245,1163 252,1160 256.5,1172 256,1250 254,1266 255.6,1292 254.5,1304 250,1309 245,1309" fill="#000"/>
<path d="M252.7 1168.7L255.9 1168.4L259.1 1168.3L262.2 1168.3L265.4 1168.4L268.5 1168.7L271.6 1169.0L274.7 1169.5L277.8 1170.1L280.8 1170.7L283.9 1171.5L287.0 1172.3L290.0 1173.1L293.1 1174.0L296.1 1174.9L299.2 1175.9L302.2 1176.9L305.3 1177.9L308.3 1178.9L311.4 1179.9L314.5 1180.9L317.5 1181.8L320.6 1182.7L323.7 1183.6L326.8 1184.4L329.9 1185.1L333.1 1185.8L336.2 1186.4L339.4 1186.8L342.6 1187.2L345.8 1187.5L349.0 1187.6L352.3 1187.7L355.5 1187.6L358.8 1187.3L362.1 1187.0L365.3 1186.5L368.6 1185.9L371.8 1185.2L375.0 1184.4L378.2 1183.4L381.3 1182.4L384.4 1181.2L387.4 1180.0L390.4 1178.6L393.4 1177.1L396.2 1175.5L399.0 1173.8L401.7 1172.0L404.3 1170.1L406.8 1168.1L409.2 1166.0L411.6 1163.8L413.9 1161.6L416.1 1159.3L418.3 1156.9L420.4 1154.5L422.4 1152.0L424.4 1149.4L426.4 1146.9L428.3 1144.2L430.2 1141.6L432.0 1138.9L433.9 1136.3L435.7 1133.6L437.4 1130.9L439.2 1128.2L441.0 1125.4L442.7 1122.7L444.4 1120.0L446.1 1117.2L447.7 1114.5L449.4 1111.7L451.0 1109.0L452.6 1106.2L454.2 1103.4L455.8 1100.6L457.4 1097.8L458.9 1095.0L460.4 1092.2L461.9 1089.3L463.4 1086.5L464.9 1083.6L466.4 1080.8L467.8 1077.9L469.2 1075.1L470.6 1072.2L472.0 1069.3L473.4 1066.4L474.8 1063.5L476.1 1060.6L477.4 1057.7L478.7 1054.8L480.1 1051.9L481.3 1049.0L482.6 1046.0L483.9 1043.1L485.1 1040.1L486.3 1037.2L487.6 1034.2L488.8 1031.3L490.0 1028.3L491.1 1025.3L492.3 1022.3L493.5 1019.3L494.6 1016.4L495.7 1013.4L496.8 1010.4L498.0 1007.3L499.0 1004.3L500.1 1001.3L501.2 998.3L502.3 995.3L503.3 992.2L504.4 989.2L505.4 986.1L506.4 983.1L507.4 980.0L508.4 977.0L509.4 973.9L510.4 970.9L511.4 967.8L512.3 964.7L513.3 961.7L514.2 958.6L515.2 955.5L516.1 952.4L517.0 949.3L517.9 946.2L518.9 943.1L519.8 940.0L520.6 936.9L521.5 933.8L522.4 930.7L523.3 927.6L524.2 924.5L525.0 921.4L525.9 918.3L526.7 915.1L527.6 912.0L528.4 908.9L529.2 905.8L530.1 902.6L530.9 899.5L531.7 896.4L532.5 893.2L533.4 890.1L534.2 887.0L535.0 883.8L535.8 880.7L536.6 877.6L537.4 874.4L538.2 871.3L538.9 868.1L539.7 865.0L540.5 861.9L541.3 858.7L542.1 855.6L542.9 852.4L543.6 849.3L544.4 846.1L545.2 843.0L546.0 839.8L546.7 836.7L547.5 833.5L548.2 830.4L549.0 827.2L549.8 824.1L550.5 820.9L551.3 817.8L552.0 814.6L552.8 811.5L553.5 808.3L554.2 805.2L555.0 802.0L555.7 798.9L556.4 795.7L557.2 792.6L557.9 789.4L558.6 786.3L559.3 783.1L560.0 780.0L560.7 776.8L561.4 773.7L562.1 770.5L562.8 767.4L563.5 764.2L564.2 761.1L564.9 757.9L565.6 754.8L566.2 751.6L566.9 748.5L567.6 745.3L568.2 742.2L568.9 739.0L569.6 735.9L570.2 732.8L570.8 729.6L571.5 726.5L572.1 723.3L572.8 720.2L573.4 717.0L574.0 713.9L574.6 710.7L575.2 707.6L575.8 704.5L576.4 701.3L577.0 698.2L577.6 695.0L578.2 691.9L578.8 688.7L579.3 685.6L579.9 682.5L580.5 679.3L581.0 676.2L581.6 673.1L582.1 669.9L582.7 666.8L583.2 663.7L583.7 660.5L584.2 657.4L584.7 654.3L585.3 651.1L585.8 648.0L586.3 644.9L586.7 641.8L587.2 638.6L587.7 635.5L588.2 632.4L588.7 629.3L589.1 626.1L589.6 623.0L590.1 619.9L590.5 616.8L591.0 613.6L591.4 610.5L591.9 607.4L592.4 604.2L592.8 601.1L593.3 597.9L593.7 594.8L594.2 591.7L594.7 588.5L595.2 585.4L595.6 582.2L596.1 579.0L596.6 575.9L597.1 572.7L597.6 569.5L598.1 566.3L598.6 563.1L599.1 560.0L599.6 556.8L600.2 553.5L600.7 550.3L601.3 547.1L601.8 543.9L602.4 540.7L603.0 537.4L603.6 534.2L604.2 530.9L604.8 527.7L605.4 524.4L606.1 521.1L606.7 517.8L607.4 514.5L608.1 511.2L608.8 507.9L609.5 504.6L610.2 501.2L611.0 497.9L611.8 494.5L612.5 491.1L613.3 487.8L614.2 484.4L615.0 481.0L615.9 477.6L616.8 474.2L617.7 470.9L618.8 467.7L619.8 464.6L621.0 461.6L622.2 458.8L623.5 456.1L625.0 453.6L626.5 451.3L628.2 449.3L629.9 447.5L631.9 445.9L633.9 444.7L636.1 443.8L638.5 443.3L641.1 443.1L643.6 443.5L646.0 444.5L648.2 446.3L650.2 448.6L652.1 451.3L653.8 454.3L655.4 457.5L656.9 460.8L658.3 464.0L659.7 467.1L661.0 470.3L662.3 473.4L663.5 476.4L664.7 479.5L665.8 482.5L667.0 485.5L668.1 488.5L669.2 491.6L670.4 494.6L671.5 497.6L672.6 500.6L673.7 503.7L674.9 506.7L676.0 509.7L677.1 512.8L678.2 515.8L679.3 518.8L680.4 521.9L681.5 524.9L682.5 527.9L683.6 531.0L684.7 534.0L685.8 537.0L686.9 540.1L687.9 543.1L689.0 546.2L690.1 549.2L691.1 552.2L692.2 555.3L693.3 558.3L694.3 561.4L695.4 564.4L696.4 567.5L697.5 570.5L698.5 573.5L699.6 576.6L700.6 579.6L701.7 582.7L702.7 585.7L703.7 588.8L704.8 591.8L705.8 594.9L706.8 597.9L707.9 601.0L708.9 604.0L709.9 607.1L711.0 610.1L712.0 613.2L713.0 616.2L714.0 619.3L715.1 622.3L716.1 625.4L717.1 628.4L718.1 631.5L719.1 634.5L720.2 637.6L721.2 640.6L722.2 643.7L723.2 646.7L724.2 649.8L725.2 652.8L726.3 655.9L727.3 658.9L728.3 662.0L729.3 665.0L730.3 668.1L731.3 671.1L732.3 674.2L733.4 677.2L734.4 680.3L735.4 683.3L736.4 686.4L737.4 689.4L738.5 692.5L739.5 695.5L740.5 698.6L741.5 701.6L742.5 704.7L743.6 707.7L744.6 710.8L745.6 713.8L746.6 716.9L747.7 719.9L748.7 723.0L749.7 726.0L750.8 729.1L751.8 732.1L752.8 735.1L753.9 738.2L754.9 741.2L755.9 744.3L757.0 747.3L758.0 750.4L759.1 753.4L760.1 756.4L761.2 759.5L762.2 762.5L763.3 765.5L764.4 768.6L765.4 771.6L766.5 774.7L767.6 777.7L768.6 780.7L769.7 783.7L770.8 786.8L771.8 789.8L772.9 792.8L774.0 795.9L775.1 798.9L776.2 801.9L777.3 804.9L778.4 808.0L779.5 811.0L780.6 814.0L781.7 817.0L782.8 820.0L783.9 823.1L785.1 826.1L786.2 829.1L787.3 832.1L788.4 835.1L789.6 838.1L790.7 841.1L791.9 844.1L793.0 847.2L794.2 850.2L795.3 853.2L796.5 856.2L797.7 859.2L798.8 862.2L800.0 865.2L801.2 868.2L802.4 871.2L803.6 874.1L804.8 877.1L806.0 880.1L807.2 883.1L808.4 886.1L809.6 889.1L810.8 892.0L812.1 895.0L813.3 898.0L814.5 901.0L815.8 903.9L817.0 906.9L818.3 909.9L819.6 912.8L820.8 915.8L822.1 918.8L823.4 921.7L824.7 924.7L826.0 927.6L827.3 930.6L828.6 933.5L829.9 936.4L831.2 939.4L832.6 942.3L833.9 945.2L835.2 948.2L836.6 951.1L837.9 954.0L839.3 956.9L840.7 959.8L842.0 962.8L843.4 965.7L844.8 968.6L846.2 971.5L847.6 974.4L849.0 977.3L850.4 980.2L851.9 983.0L853.3 985.9L854.8 988.8L856.2 991.7L857.7 994.6L859.1 997.4L860.6 1000.3L862.1 1003.1L863.6 1006.0L865.1 1008.8L866.6 1011.7L868.1 1014.5L869.6 1017.4L871.2 1020.2L872.7 1023.0L874.2 1025.9L875.8 1028.7L877.4 1031.5L878.9 1034.3L880.5 1037.1L882.1 1039.9L883.7 1042.7L885.4 1045.5L887.0 1048.3L888.6 1051.0L890.3 1053.8L891.9 1056.6L893.6 1059.3L895.3 1062.0L897.0 1064.8L898.7 1067.5L900.4 1070.2L902.2 1072.9L903.9 1075.6L905.7 1078.3L907.5 1080.9L909.3 1083.6L911.1 1086.2L913.0 1088.9L914.8 1091.5L916.7 1094.1L918.6 1096.7L920.5 1099.2L922.4 1101.8L924.3 1104.4L926.3 1106.9L928.2 1109.4L930.2 1111.9L932.2 1114.4L934.3 1116.9L936.3 1119.3L938.4 1121.8L940.5 1124.2L942.6 1126.6L944.7 1129.0L946.9 1131.3L949.1 1133.7L951.3 1136.0L953.5 1138.3L955.7 1140.6L958.0 1142.9L960.3 1145.1L962.6 1147.3L964.9 1149.5L967.3 1151.7L969.6 1153.9L972.0 1156.0L974.4 1158.2L976.9 1160.3L979.3 1162.4L981.8 1164.4L984.3 1166.5L986.8 1168.5L989.3 1170.5L991.8 1172.5L994.4 1174.5L997.0 1176.4L999.6 1178.3L1002.2 1180.2L1004.8 1182.1L1007.4 1184.0L1010.1 1185.8L1012.7 1187.6L1015.4 1189.4L1018.1 1191.2L1020.8 1193.0L1023.6 1194.7L1026.3 1196.4L1029.1 1198.1L1031.8 1199.8L1034.6 1201.4L1037.4 1203.0L1040.2 1204.6L1043.1 1206.2L1045.9 1207.8L1048.7 1209.3L1051.6 1210.8L1054.5 1212.3L1057.3 1213.8L1060.2 1215.2L1063.1 1216.6L1066.0 1218.0L1068.9 1219.4L1071.9 1220.8L1074.8 1222.1L1077.8 1223.4L1080.7 1224.7L1083.7 1226.0L1086.6 1227.2L1089.6 1228.4L1092.6 1229.6L1095.6 1230.8L1098.6 1231.9L1101.6 1233.1L1104.6 1234.2L1107.7 1235.3L1110.7 1236.4L1113.7 1237.4L1116.8 1238.4L1119.8 1239.5L1122.9 1240.5L1125.9 1241.5L1129.0 1242.4L1132.1 1243.4L1135.1 1244.3L1138.2 1245.2L1141.3 1246.2L1144.4 1247.0L1147.5 1247.9L1150.6 1248.8L1153.7 1249.7L1156.8 1250.5L1159.9 1251.3L1163.0 1252.2L1166.1 1253.0L1169.2 1253.8L1172.4 1254.6L1175.5 1255.4L1178.6 1256.1L1181.7 1256.9L1184.9 1257.7L1188.0 1258.4L1191.1 1259.2L1194.3 1259.9L1197.4 1260.7L1200.5 1261.4L1203.7 1262.1L1206.8 1262.9L1209.9 1263.6L1213.1 1264.3L1216.2 1265.0L1219.4 1265.7L1222.5 1266.4L1225.6 1267.2L1228.8 1267.8L1231.9 1268.5L1235.1 1269.2L1238.2 1269.9L1241.4 1270.6L1244.5 1271.3L1247.7 1271.9L1250.8 1272.6L1254.0 1273.3L1257.1 1273.9L1260.3 1274.6L1263.4 1275.2L1266.6 1275.9L1269.7 1276.5L1272.9 1277.2L1276.1 1277.8L1279.2 1278.4L1282.4 1279.0L1285.5 1279.7L1288.7 1280.3L1291.8 1280.9L1295.0 1281.5L1298.2 1282.1L1301.3 1282.7L1304.5 1283.3L1307.7 1283.9L1310.8 1284.5L1314.0 1285.1L1317.1 1285.6L1320.3 1286.2L1323.5 1286.8L1326.7 1287.3L1329.8 1287.9L1333.0 1288.5L1336.2 1289.0L1339.3 1289.6L1342.5 1290.1L1345.7 1290.6L1348.8 1291.2L1352.0 1291.7L1355.2 1292.2L1358.4 1292.8L1361.5 1293.3L1364.7 1293.8L1367.9 1294.3L1371.1 1294.8L1374.3 1295.3L1377.4 1295.8L1380.6 1296.3L1383.8 1296.8L1387.0 1297.3L1390.2 1297.7L1393.3 1298.2L1396.5 1298.7L1399.7 1299.2L1402.9 1299.6L1406.1 1300.1L1409.3 1300.5L1412.4 1301.0L1415.6 1301.4L1418.8 1301.9L1422.0 1302.3L1425.2 1302.8L1428.4 1303.2L1431.6 1303.6L1434.8 1304.0L1437.9 1304.5L1441.1 1304.9L1444.3 1305.3L1447.5 1305.7L1450.7 1306.1L1453.9 1306.5L1457.1 1306.9L1460.3 1307.3L1463.5 1307.7L1466.7 1308.0L1469.9 1308.4L1473.1 1308.8L1476.3 1309.2L1479.5 1309.5L1482.7 1309.9L1485.9 1310.2L1489.1 1310.6L1492.3 1310.9L1495.5 1311.3L1498.7 1311.6L1501.9 1312.0L1505.1 1312.3L1508.3 1312.6L1511.5 1313.0L1514.7 1313.3L1517.9 1313.6L1521.1 1313.9L1524.3 1314.2L1527.5 1314.5L1530.7 1314.8L1533.9 1315.1L1537.1 1315.4L1540.3 1315.7L1543.5 1316.0L1546.7 1316.2L1549.9 1316.5L1553.1 1316.8L1556.3 1317.1L1559.5 1317.3L1562.7 1317.6L1566.0 1317.8L1569.2 1318.1L1572.4 1318.3L1575.6 1318.6L1578.8 1318.8L1582.0 1319.1L1585.2 1319.3L1588.4 1319.5L1591.6 1319.7L1594.9 1320.0L1598.1 1320.2L1601.3 1320.4L1604.5 1320.6L1607.7 1320.8L1610.9 1321.0L1614.1 1321.2L1617.3 1321.4L1620.6 1321.6L1623.8 1321.8L1627.0 1321.9L1630.2 1322.1L1633.4 1322.3L1636.6 1322.4L1639.9 1322.6L1643.1 1322.8L1646.3 1322.9L1649.5 1323.1L1652.7 1323.2L1655.9 1323.4L1659.2 1323.5L1662.4 1323.6L1665.6 1323.8L1668.8 1323.9L1672.0 1324.0L1675.3 1324.2L1678.5 1324.3L1681.7 1324.4L1684.9 1324.5L1688.1 1324.6L1691.4 1324.7L1694.6 1324.8L1697.8 1324.9L1701.0 1325.0L1704.2 1325.1L1707.5 1325.1L1710.7 1325.2L1713.9 1325.3L1717.1 1325.4L1720.3 1325.4L1723.6 1325.5L1726.8 1325.5L1730.0 1325.6L1733.2 1325.6L1736.5 1325.7L1739.7 1325.7L1742.9 1325.8L1746.1 1325.8L1749.4 1325.8L1752.6 1325.9L1755.8 1325.9L1759.0 1325.9L1762.2 1325.9L1765.5 1325.9L1768.7 1325.9L1771.9 1325.9L1775.1 1325.9L1778.4 1325.9" fill="none" stroke="#000" stroke-linecap="round" stroke-linejoin="round" stroke-width="12.7"/></g>
<text transform="translate(184.5,75.3) scale(1,1)" text-anchor="end" font-size="67.7">65</text>
<text transform="translate(184.5,209.1) scale(1,1)" text-anchor="end" font-size="67.7">60</text>
<text transform="translate(184.5,343.9) scale(1,1)" text-anchor="end" font-size="67.7">55</text>
<text transform="translate(184.5,478.3) scale(1,1)" text-anchor="end" font-size="67.7">50</text>
<text transform="translate(184.5,611.9) scale(1,1)" text-anchor="end" font-size="67.7">45</text>
<text transform="translate(184.5,746.7) scale(1,1)" text-anchor="end" font-size="67.7">40</text>
<text transform="translate(184.5,881.3) scale(1,1)" text-anchor="end" font-size="67.7">35</text>
<text transform="translate(184.5,1014.3) scale(1,1)" text-anchor="end" font-size="67.7">30</text>
<text transform="translate(184.5,1149.6) scale(1,1)" text-anchor="end" font-size="67.7">25</text>
<text transform="translate(184.5,1282.1) scale(1,1)" text-anchor="end" font-size="67.7">20</text>
<text transform="translate(184.5,1417.1) scale(1,1)" text-anchor="end" font-size="67.7">15</text>
<text transform="translate(245.2,1498.4) scale(1,1)" text-anchor="middle" font-size="67.7">0</text>
<text transform="translate(587.0,1498.4) scale(1,1)" text-anchor="middle" font-size="67.7">600</text>
<text transform="translate(929.0,1498.4) scale(1,1)" text-anchor="middle" font-size="67.7">1200</text>
<text transform="translate(1269.8,1498.4) scale(1,1)" text-anchor="middle" font-size="67.7">1800</text>
<text transform="translate(1610.6,1498.4) scale(1,1)" text-anchor="middle" font-size="67.7">2400</text>
<text transform="translate(966.2,1602) scale(1,1)" text-anchor="middle" font-size="77.7">Time, min</text>
<text transform="translate(82.0,724.6) rotate(-90) scale(1,1.01)" text-anchor="middle" font-size="78.5">Temperature, <tspan font-size="51.0" dx="-3" dy="-25.9">o</tspan><tspan dy="25.9">C</tspan></text>
<rect x="1120.6" y="76.6" width="613.6" height="264.8" fill="#fff" stroke="#000" stroke-width="4.2"/>
<line x1="1195.5" y1="110.8" x2="1409.5" y2="110.8" stroke="#000" stroke-linecap="round" stroke-width="10.8"/>
<line x1="1195.8" y1="176.3" x2="1409.5" y2="176.3" stroke="#000" stroke-linecap="round" stroke-width="10.4" stroke-dasharray="0.1 21.3"/>
<line x1="1194.5" y1="242.5" x2="1410.5" y2="242.5" stroke="#000" stroke-linecap="round" stroke-width="9" stroke-dasharray="17.6 16.6"/>
<line x1="1194.5" y1="308.2" x2="1410.5" y2="308.2" stroke="#000" stroke-linecap="round" stroke-width="9" stroke-dasharray="25.6 34.8"/>
<text x="1434" y="126.2" font-size="51.5" style="font-kerning:none">C100</text>
<text x="1434" y="191.8" font-size="51.5" style="font-kerning:none">C80/WG20</text>
<text x="1434" y="257.8" font-size="51.5" style="font-kerning:none">C40/WG60</text>
<text x="1434" y="323.6" font-size="51.5" style="font-kerning:none">C20/WG80</text>
<circle cx="640.1" cy="440.3" r="13.5" fill="#bfbfbf" stroke="#000" stroke-width="3.4"/>
<circle cx="640.7" cy="808.2" r="13.5" fill="#bfbfbf" stroke="#000" stroke-width="3.4"/>
<circle cx="737.5" cy="1000.5" r="13.5" fill="#bfbfbf" stroke="#000" stroke-width="3.4"/>
<circle cx="1091.5" cy="1242" r="13.5" fill="#bfbfbf" stroke="#000" stroke-width="3.4"/>
<rect x="265" y="295" width="279.3" height="143.3" fill="#fff" stroke="#000" stroke-width="4.4"/>
<text x="404.5" y="355" text-anchor="middle" font-weight="bold" font-size="51.5">50.51 <tspan font-size="33.5" dy="-17.0">o</tspan><tspan dy="17.0">C</tspan></text><text x="404.5" y="416.7" text-anchor="middle" font-weight="bold" font-size="51.5">(475.2 J/g)</text>
<rect x="254" y="659" width="282.0" height="144.3" fill="#fff" stroke="#000" stroke-width="4.4"/>
<text x="395" y="720" text-anchor="middle" font-weight="bold" font-size="51.5">36.91 <tspan font-size="33.5" dy="-17.0">o</tspan><tspan dy="17.0">C</tspan></text><text x="395" y="781.7" text-anchor="middle" font-weight="bold" font-size="51.5">(263.5 J/g)</text>
<rect x="560.4" y="1133.5" width="281.0" height="141.3" fill="#fff" stroke="#000" stroke-width="4.4"/>
<text x="700.5" y="1192.6" text-anchor="middle" font-weight="bold" font-size="51.5">29.69 <tspan font-size="33.5" dy="-17.0">o</tspan><tspan dy="17.0">C</tspan></text><text x="700.5" y="1253.8" text-anchor="middle" font-weight="bold" font-size="51.5">(152.3 J/g)</text>
<rect x="1241.7" y="1234" width="252.3" height="140.6" fill="#fff" stroke="#000" stroke-width="4.4"/>
<text x="1368" y="1291.7" text-anchor="middle" font-weight="bold" font-size="51.5">20.81 <tspan font-size="33.5" dy="-17.0">o</tspan><tspan dy="17.0">C</tspan></text><text x="1368" y="1353.3" text-anchor="middle" font-weight="bold" font-size="51.5">(29.2 J/g)</text>
<rect x="611.7" y="285" width="216.6" height="72.3" fill="#fff" stroke="#000" stroke-width="4.4"/>
<text x="720" y="340" text-anchor="middle" font-size="51.5"><tspan>+</tspan><tspan font-weight="bold">2.77 h</tspan></text>
<rect x="756" y="435.7" width="251.5" height="75.0" fill="#fff" stroke="#000" stroke-width="4.4"/>
<text x="882" y="492" text-anchor="middle" font-size="51.5"><tspan>+</tspan><tspan font-weight="bold">12.53 h</tspan></text>
<rect x="442.7" y="479.3" width="57.3" height="85.7" fill="#fff" stroke="#000" stroke-width="4.4"/>
<text x="471" y="539.3" text-anchor="middle" font-weight="bold" font-size="51.5">2</text>
<rect x="293.5" y="980.5" width="58.0" height="86.0" fill="#fff" stroke="#000" stroke-width="4.4"/>
<text x="322.5" y="1042.5" text-anchor="middle" font-weight="bold" font-size="51.5">1</text>
<line x1="538.3" y1="371.7" x2="606.7" y2="421.7" stroke="#000" stroke-width="3.8"/><polygon points="632.5,440.6 596.9,435.0 616.4,408.4" fill="#000"/>
<line x1="537.0" y1="736.0" x2="611.3" y2="791.0" stroke="#000" stroke-width="3.8"/><polygon points="637.0,810.0 601.5,804.2 621.1,777.7" fill="#000"/>
<line x1="688.5" y1="1130.0" x2="725.6" y2="1028.6" stroke="#000" stroke-width="4.3"/><polygon points="736.6,998.5 741.1,1034.2 710.1,1022.9" fill="#000"/>
<line x1="1212.7" y1="1309.3" x2="1121.2" y2="1260.3" stroke="#000" stroke-width="3.2"/><polygon points="1093.0,1245.2 1129.0,1245.8 1113.4,1274.9" fill="#000"/>
<line x1="520.0" y1="494.0" x2="573.8" y2="467.1" stroke="#000" stroke-width="3.8"/><polygon points="602.4,452.8 581.2,481.9 566.4,452.4" fill="#000"/>
<line x1="318.8" y1="1075.0" x2="341.1" y2="1152.4" stroke="#000" stroke-width="4.3"/><polygon points="349.9,1183.2 325.2,1157.0 356.9,1147.9" fill="#000"/>
<line x1="634.2" y1="364.5" x2="634.2" y2="416" stroke="#000" stroke-width="8.8"/><line x1="740.1" y1="364.5" x2="740.1" y2="416" stroke="#000" stroke-width="8.8"/><line x1="674.0" y1="393.5" x2="706.9" y2="393.5" stroke="#000" stroke-width="5.4"/><polygon points="642.5,393.5 675.0,377.0 675.0,410.0"/><polygon points="738.4,393.5 705.9,377.0 705.9,410.0"/>
<line x1="641.2" y1="497.5" x2="641.2" y2="549.3" stroke="#000" stroke-width="8.8"/><line x1="1086.6" y1="504.4" x2="1086.6" y2="555.9" stroke="#000" stroke-width="8.8"/><line x1="675.5" y1="524.6" x2="1046.4" y2="524.6" stroke="#000" stroke-width="5.4"/><polygon points="644,524.6 676.5,508.1 676.5,541.1"/><polygon points="1077.9,524.6 1045.4,508.1 1045.4,541.1"/>
</g>
</svg>
</body>
</html>
